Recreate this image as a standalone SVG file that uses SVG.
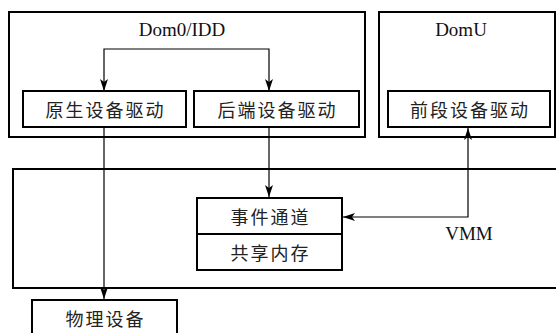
<svg xmlns="http://www.w3.org/2000/svg" width="556" height="333" viewBox="0 0 556 333">
<defs>
<marker id="ah" viewBox="0 0 12 8" refX="12" refY="4" markerWidth="12" markerHeight="8" markerUnits="userSpaceOnUse" orient="auto-start-reverse">
<path d="M0,0 L12,4 L0,8 L3,4 Z" fill="#000"/>
</marker>
<style>
.box{fill:#fff;stroke:#000;stroke-width:2}
.cont{fill:none;stroke:#000;stroke-width:2}
.ln{fill:none;stroke:#000;stroke-width:1.2}
.zh{font-family:"Noto Sans CJK SC","Liberation Serif",serif;font-size:18px;letter-spacing:2px;fill:#222;text-anchor:middle;dominant-baseline:central}
.en{font-family:"Liberation Serif",serif;font-size:19px;fill:#111;text-anchor:middle}
</style>
</defs>
<rect width="556" height="333" fill="#fff"/>
<g id="dom0">
<rect class="cont" x="9" y="12" width="356" height="125"/>
<text class="en" x="182" y="36">Dom0/IDD</text>
</g>
<g id="domu">
<rect class="cont" x="379" y="12" width="176" height="125"/>
<text class="en" x="461" y="36">DomU</text>
</g>
<g id="vmm">
<rect class="cont" x="13" y="169" width="545" height="119"/>
<text class="en" x="469" y="240">VMM</text>
</g>
<g id="native-driver">
<rect class="box" x="23" y="91" width="163" height="36"/>
<text class="zh" x="105.5" y="109">原生设备驱动</text>
</g>
<g id="backend-driver">
<rect class="box" x="194" y="91" width="165" height="36"/>
<text class="zh" x="277.5" y="109">后端设备驱动</text>
</g>
<g id="frontend-driver">
<rect class="box" x="388" y="91" width="162" height="36"/>
<text class="zh" x="470" y="109">前段设备驱动</text>
</g>
<g id="event-channel">
<rect class="box" x="197" y="198" width="145" height="36"/>
<text class="zh" x="270.5" y="216">事件通道</text>
</g>
<g id="shared-memory">
<rect class="box" x="197" y="234" width="145" height="36"/>
<text class="zh" x="270.5" y="252">共享内存</text>
</g>
<g id="physical-device">
<rect class="box" x="32" y="300" width="145" height="40"/>
<text class="zh" x="105.5" y="318">物理设备</text>
</g>
<g id="connectors">
<path class="ln" d="M104,91 V49 H269 V91" marker-start="url(#ah)" marker-end="url(#ah)"/>
<path class="ln" d="M104,127 V299" marker-end="url(#ah)"/>
<path class="ln" d="M269,127 V197" marker-end="url(#ah)"/>
<path class="ln" d="M468,128 V217 H343" marker-start="url(#ah)" marker-end="url(#ah)"/>
</g>
</svg>
